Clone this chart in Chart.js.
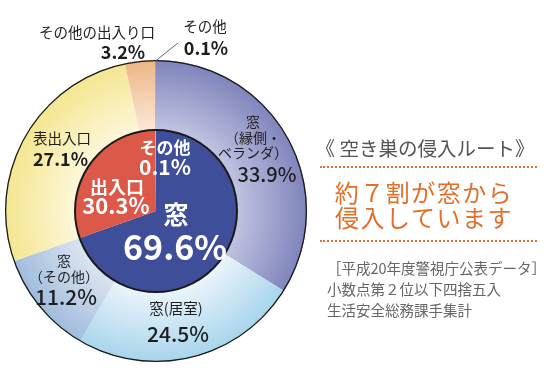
<!DOCTYPE html>
<html><head><meta charset="utf-8">
<script src="https://cdn.jsdelivr.net/npm/chart.js@4/dist/chart.umd.min.js"></script>
<style>
html,body{margin:0;padding:0;background:#fff;}
#wrap{position:relative;width:554px;height:380px;overflow:hidden;font-family:"Noto Sans CJK JP","Noto Sans",sans-serif;}
canvas{position:absolute;left:0;top:0;}
.t{position:absolute;white-space:nowrap;line-height:1;}
.c{transform:translate(-50%,-50%);text-align:center;}
.l{transform:translate(0,-50%);}
.dot{position:absolute;left:320px;width:217px;height:0;border-top:2.5px dotted #e2722c;}
</style></head>
<body><div id="wrap"><canvas id="cv" width="554" height="380"></canvas></div>
<script>
// ---- data ----
const outerLabels = ['窓（縁側・ベランダ）','窓(居室)','窓（その他）','表出入口','その他の出入り口','その他'];
const outerValues = [33.9, 24.5, 11.2, 27.1, 3.2, 0.1];
const innerLabels = ['窓','出入口','その他'];
const innerValues = [69.6, 30.3, 0.1];
const titleText = '《 空き巣の侵入ルート》';
const headline = ['約７割が窓から','侵入しています'];
const notes = ['［平成20年度警視庁公表データ］','小数点第２位以下四捨五入','生活安全総務課手集計'];

// ---- styles ----
const outerColors = [
  ['#c6c8e4','#7f84bb'],
  ['#f0f7fc','#a8d5ec'],
  ['#e0e8f2','#a0bcdc'],
  ['#fdf9e0','#f4e690'],
  ['#fcece0','#eeb685'],
  ['#8e90c6','#8e90c6']
];
const innerColors = ['#3f4e99','#dc5848','#a3bade'];

function radial(c, pair){
  const ch = c.chart, a = ch.chartArea;
  if(!a) return pair[1];
  const cx=(a.left+a.right)/2, cy=(a.top+a.bottom)/2;
  const R=Math.min(a.right-a.left,a.bottom-a.top)/2;
  const g = ch.ctx.createRadialGradient(cx,cy,R*0.5,cx,cy,R);
  g.addColorStop(0,pair[0]); g.addColorStop(1,pair[1]);
  return g;
}

const outline = {
  id:'outline',
  afterDatasetsDraw(chart){
    const m0 = chart.getDatasetMeta(0).data[0];
    const m1 = chart.getDatasetMeta(1).data[0];
    const ctx = chart.ctx;
    ctx.save();
    ctx.strokeStyle='#1a1a1a';
    ctx.lineWidth=1.3;
    ctx.beginPath(); ctx.arc(m0.x,m0.y,m0.outerRadius-0.6,0,Math.PI*2); ctx.stroke();
    ctx.lineWidth=2;
    ctx.beginPath(); ctx.arc(m1.x,m1.y,m1.outerRadius,0,Math.PI*2); ctx.stroke();
    // leader line for outer "その他"
    ctx.strokeStyle='#666'; ctx.lineWidth=1;
    ctx.beginPath(); ctx.moveTo(m0.x-0.5,m0.y-m0.outerRadius+1); ctx.lineTo(m0.x+22,m0.y-m0.outerRadius-17); ctx.stroke();
    ctx.restore();
  }
};

new Chart(document.getElementById('cv'), {
  type:'doughnut',
  data:{
    labels: outerLabels,
    datasets:[
      {label:'outer', data: outerValues, weight:70, borderWidth:0,
       backgroundColor: c => radial(c, outerColors[c.dataIndex])},
      {label:'inner', data: innerValues, weight:81, borderWidth:0,
       backgroundColor: innerColors}
    ]
  },
  options:{
    responsive:false, animation:false, cutout:0,
    layout:{padding:{left:5,top:60,right:247,bottom:18}},
    plugins:{legend:{display:false},tooltip:{enabled:false}}
  },
  plugins:[outline]
});

// ---- text ----
const wrap = document.getElementById('wrap');
function txt(s, x, y, css, cls){
  const d=document.createElement('div');
  d.className='t '+(cls||'c');
  d.style.left=x+'px'; d.style.top=y+'px';
  d.style.cssText+=';'+css;
  d.innerHTML=s; wrap.appendChild(d); return d;
}
const pct = v => v.toFixed(1)+'%';
const dark='color:#1e1e1e;';
// outer ring labels
txt(outerLabels[4], 97, 32, dark+'font-size:14.5px;');
txt(pct(outerValues[4]), 123, 51, dark+'font-size:18px;font-weight:bold;');
txt(outerLabels[5], 205, 26, dark+'font-size:14.5px;');
txt(pct(outerValues[5]), 206, 47, dark+'font-size:18px;font-weight:bold;');
txt('窓<br>（縁側・<br>ベランダ）', 253, 137, dark+'font-size:14px;line-height:15.5px;');
txt(pct(outerValues[0]), 267, 174, dark+'font-size:20px;font-weight:500;');
txt(outerLabels[1], 176, 308, dark+'font-size:14.5px;');
txt(pct(outerValues[1]), 178, 333, dark+'font-size:21px;font-weight:500;');
txt('窓<br>（その他）', 64, 268, dark+'font-size:14px;line-height:15.5px;');
txt(pct(outerValues[2]), 66, 296, dark+'font-size:21px;font-weight:500;');
txt(outerLabels[3], 33, 138, dark+'font-size:14.5px;', 'l');
txt(pct(outerValues[3]), 33, 158, dark+'font-size:18px;font-weight:bold;', 'l');
// inner labels
const w='color:#fff;font-weight:bold;';
txt(innerLabels[2], 165, 146, w+'font-size:17px;');
txt(pct(innerValues[2]), 165, 166, w+'font-size:21px;');
txt(innerLabels[1], 117, 186, w+'font-size:18px;');
txt(pct(innerValues[1]), 116, 204, w+'font-size:22px;');
txt(innerLabels[0], 176, 213, w+'font-size:25px;');
txt(pct(innerValues[0]), 175, 246, w+'font-size:34px;');
// right panel
txt(titleText, 425, 148, 'color:#555;font-size:19.5px;');
const d1=document.createElement('div'); d1.className='dot'; d1.style.top='166px'; wrap.appendChild(d1);
txt(headline[0], 424, 192, 'color:#e2702a;font-size:24px;letter-spacing:1.5px;');
txt(headline[1], 424, 217, 'color:#e2702a;font-size:24px;letter-spacing:1.5px;');
const d2=document.createElement('div'); d2.className='dot'; d2.style.top='240px'; wrap.appendChild(d2);
txt(notes[0], 327, 268, 'color:#666;font-size:14.5px;', 'l');
txt(notes[1], 327, 289, 'color:#666;font-size:14.5px;', 'l');
txt(notes[2], 327, 310, 'color:#666;font-size:14.5px;', 'l');
</script></body></html>
